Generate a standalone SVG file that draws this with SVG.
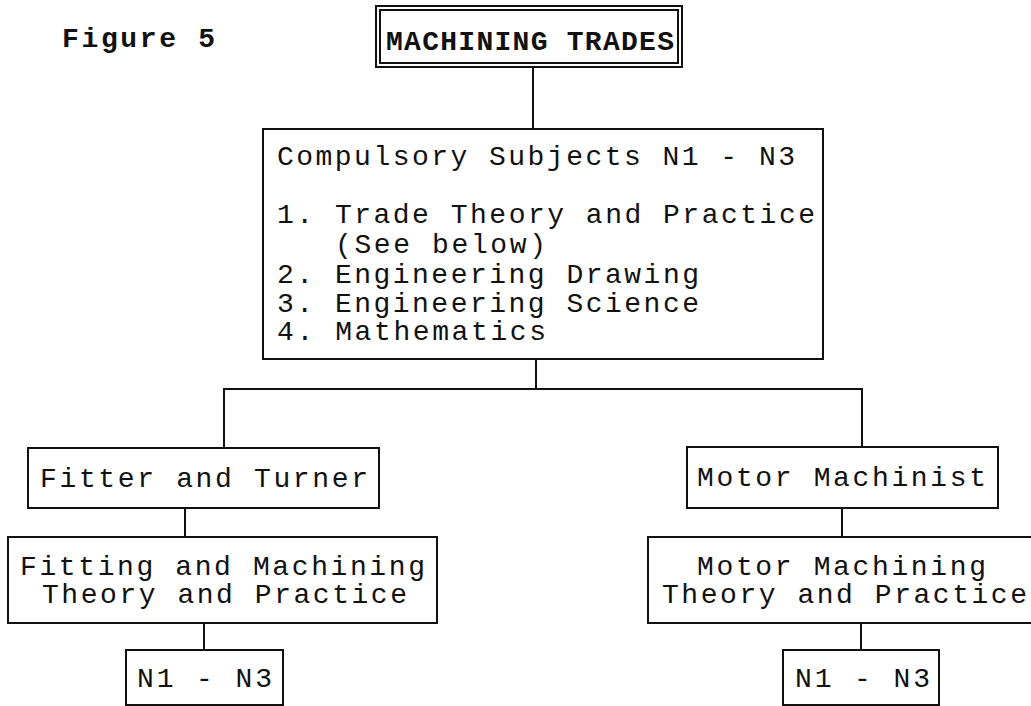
<svg xmlns="http://www.w3.org/2000/svg" width="1031" height="706" viewBox="0 0 1031 706">
<style>
.box{fill:#fff;stroke:#111;stroke-width:2}
.ln{fill:none;stroke:#111;stroke-width:2}
text{font-family:"Liberation Mono","DejaVu Sans Mono",monospace;font-size:28px;fill:#111}
.b{font-weight:bold}
</style>
<rect width="1031" height="706" fill="#fff"/>
<text class="b" x="62" y="47" textLength="153" lengthAdjust="spacing">Figure 5</text>
<g id="connectors">
<path class="ln" d="M533 67V129"/>
<path class="ln" d="M536 359V389M224 448V389H862V447"/>
<path class="ln" d="M185 508V537M204 623V650"/>
<path class="ln" d="M842 508V537M861 623V650"/>
</g>
<g id="title">
<rect class="box" x="376" y="6" width="306" height="61"/>
<rect class="box" x="380" y="10" width="298" height="53"/>
<text class="b" x="386" y="50" textLength="288" lengthAdjust="spacing">MACHINING TRADES</text>
</g>
<g id="compulsory">
<rect class="box" x="263" y="129" width="560" height="230"/>
<text x="277" y="165" textLength="518" lengthAdjust="spacing">Compulsory Subjects N1 - N3</text>
<text x="277" y="223" textLength="538" lengthAdjust="spacing">1. Trade Theory and Practice</text>
<text x="335" y="253" textLength="211" lengthAdjust="spacing">(See below)</text>
<text x="277" y="283" textLength="422" lengthAdjust="spacing">2. Engineering Drawing</text>
<text x="277" y="312" textLength="422" lengthAdjust="spacing">3. Engineering Science</text>
<text x="277" y="340" textLength="269" lengthAdjust="spacing">4. Mathematics</text>
</g>
<g id="fitter">
<rect class="box" x="28" y="448" width="351" height="60"/>
<text x="40" y="487" textLength="328" lengthAdjust="spacing">Fitter and Turner</text>
</g>
<g id="fitting">
<rect class="box" x="8" y="537" width="429" height="86"/>
<text x="20" y="575" textLength="405" lengthAdjust="spacing">Fitting and Machining</text>
<text x="42" y="603" textLength="365" lengthAdjust="spacing">Theory and Practice</text>
</g>
<g id="n-left">
<rect class="box" x="126" y="650" width="157" height="55"/>
<text x="137" y="687" textLength="135" lengthAdjust="spacing">N1 - N3</text>
</g>
<g id="motor-machinist">
<rect class="box" x="687" y="447" width="311" height="61"/>
<text x="697" y="486" textLength="289" lengthAdjust="spacing">Motor Machinist</text>
</g>
<g id="motor-machining">
<rect class="box" x="648" y="537" width="390" height="86"/>
<text x="697" y="575" textLength="289" lengthAdjust="spacing">Motor Machining</text>
<text x="662" y="603" textLength="365" lengthAdjust="spacing">Theory and Practice</text>
</g>
<g id="n-right">
<rect class="box" x="783" y="650" width="156" height="55"/>
<text x="795" y="687" textLength="135" lengthAdjust="spacing">N1 - N3</text>
</g>
</svg>
